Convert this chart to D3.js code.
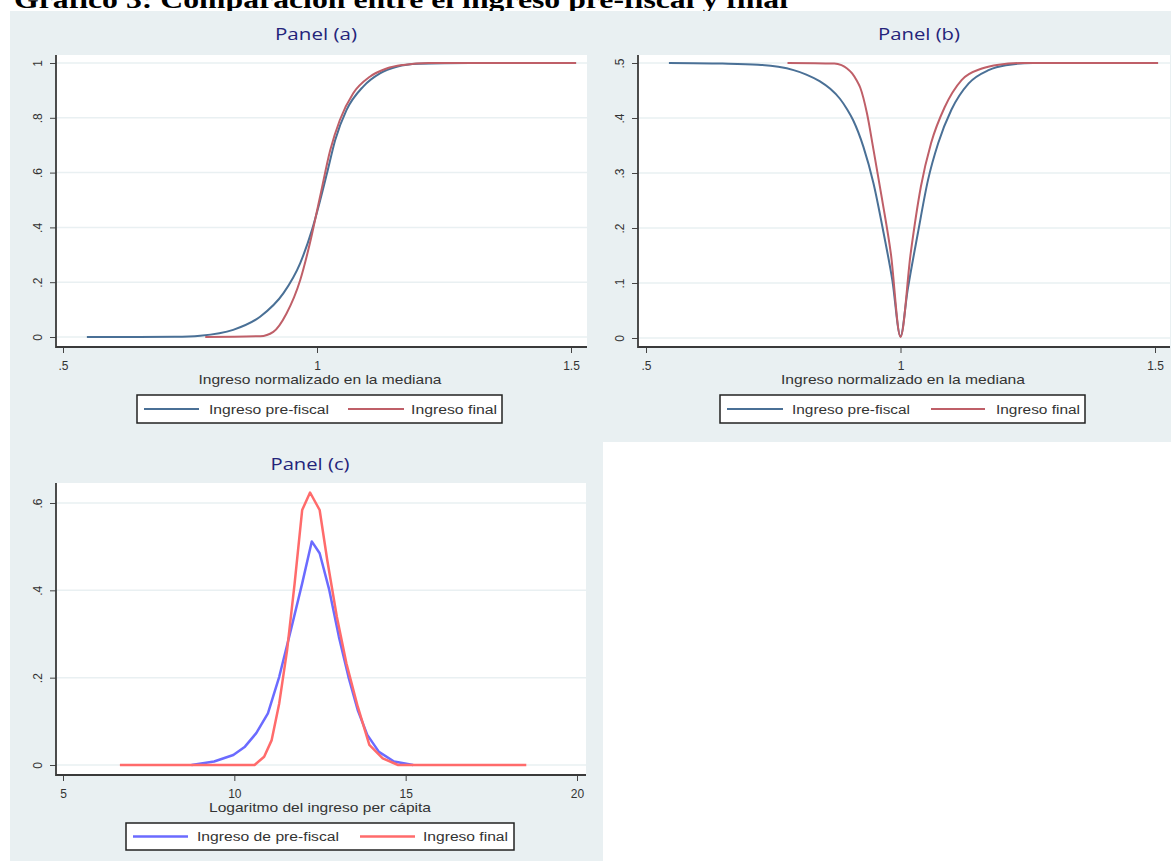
<!DOCTYPE html>
<html>
<head>
<meta charset="utf-8">
<script src="https://cdn.jsdelivr.net/npm/d3@7"></script>
<style>
  body { margin: 0; background: #fff; }
  svg { display: block; }
  .doc-title { font-family: "Liberation Serif", "Times New Roman", serif; font-weight: bold; font-size: 26px; fill: #000; }
  .panel-title { font-family: "Open Sans", "Noto Sans", sans-serif; font-size: 16px; fill: #24247a; }
  .tick text { font-family: "Liberation Sans", Arial, sans-serif; font-size: 12px; fill: #333; }
  .tick line { stroke: #444; stroke-width: 1; }
  .axis-title, .legend-label { font-family: "Liberation Sans", Arial, sans-serif; font-size: 13px; fill: #333; }
  .legend-label { font-size: 12.5px; }
</style>
</head>
<body>
<svg id="chart" width="1171" height="861"></svg>
<script>
const chartTitle = 'Gráfico 3: Comparación entre el ingreso pre-fiscal y final';

const xTicksAB = [0.5, 1, 1.5];
const yTicksA = [0, 0.2, 0.4, 0.6, 0.8, 1];
const yTicksB = [0, 0.1, 0.2, 0.3, 0.4, 0.5];
const xTicksC = [5, 10, 15, 20];
const yTicksC = [0, 0.2, 0.4, 0.6];

const legendAB = ['Ingreso pre-fiscal', 'Ingreso final'];
const legendC = ['Ingreso de pre-fiscal', 'Ingreso final'];

// panel (a): cumulative share, [ingreso normalizado, valor]
const panelAPre = [
  [0.547, 0], [0.65, 0], [0.72, 0.001], [0.77, 0.005], [0.835, 0.026], [0.888, 0.074],
  [0.934, 0.16], [0.967, 0.27], [0.99, 0.39], [1.005, 0.49], [1.02, 0.6], [1.036, 0.72],
  [1.058, 0.828], [1.091, 0.914], [1.124, 0.962], [1.157, 0.986], [1.2, 0.997], [1.3, 1], [1.51, 1]
];
const panelAFinal = [
  [0.78, 0], [0.888, 0.003], [0.914, 0.019], [0.94, 0.086], [0.967, 0.208], [0.986, 0.342],
  [1.006, 0.512], [1.026, 0.682], [1.045, 0.792], [1.071, 0.889], [1.104, 0.95], [1.137, 0.98],
  [1.17, 0.993], [1.22, 1], [1.51, 1]
];

// panel (b)
const panelBPre = [
  [0.545, 0.5], [0.65, 0.499], [0.72, 0.497], [0.76, 0.493], [0.79, 0.487], [0.815, 0.479],
  [0.841, 0.467], [0.862, 0.453], [0.881, 0.435], [0.895, 0.416], [0.907, 0.396], [0.927, 0.348],
  [0.947, 0.281], [0.967, 0.19], [0.984, 0.105], [1.0, 0.003], [1.014, 0.087], [1.034, 0.19],
  [1.054, 0.287], [1.074, 0.354], [1.1, 0.415], [1.134, 0.463], [1.173, 0.487], [1.207, 0.496],
  [1.26, 0.5], [1.506, 0.5]
];
const panelBFinal = [
  [0.778, 0.5], [0.87, 0.499], [0.884, 0.496], [0.895, 0.49], [0.905, 0.481], [0.914, 0.468],
  [0.921, 0.455], [0.934, 0.409], [0.947, 0.342], [0.964, 0.251], [0.981, 0.154], [1.0, 0.002],
  [1.02, 0.154], [1.04, 0.275], [1.06, 0.354], [1.087, 0.42], [1.12, 0.469], [1.16, 0.49],
  [1.193, 0.497], [1.24, 0.5], [1.506, 0.5]
];

// panel (c): densidad, [log ingreso, densidad]
const panelCPre = [
  [8.75, 0], [9.41, 0.008], [9.97, 0.023], [10.31, 0.042], [10.64, 0.073], [10.98, 0.118],
  [11.31, 0.202], [11.65, 0.309], [11.98, 0.416], [12.26, 0.512], [12.49, 0.485], [12.77, 0.401],
  [13.05, 0.294], [13.33, 0.202], [13.6, 0.126], [13.88, 0.069], [14.22, 0.03], [14.66, 0.008], [15.22, 0]
];
const panelCFinal = [
  [6.66, 0], [10.59, 0], [10.87, 0.019], [11.09, 0.057], [11.31, 0.141], [11.54, 0.263],
  [11.76, 0.416], [11.98, 0.584], [12.21, 0.624], [12.49, 0.584], [12.71, 0.47], [12.99, 0.34],
  [13.27, 0.233], [13.6, 0.134], [13.94, 0.046], [14.33, 0.015], [14.78, 0], [18.52, 0]
];

const BG = '#e9f0f2';
const NAVY = '#4a7096';
const MAROON = '#bf5f68';
const BLUE = '#6b6bff';
const RED = '#ff6b6b';

const fmt = d => d === 0 ? '0' : String(+d.toFixed(2)).replace(/^0\./, '.');

const svg = d3.select('#chart');

svg.append('text')
  .attr('class', 'doc-title')
  .attr('x', 14).attr('y', 7.5)
  .attr('textLength', 774).attr('lengthAdjust', 'spacingAndGlyphs')
  .text(chartTitle);

// graph background (covers the title's descenders like the pasted image)
svg.append('rect').attr('x', 10).attr('y', 11).attr('width', 1161).attr('height', 431).attr('fill', BG);
svg.append('rect').attr('x', 10).attr('y', 442).attr('width', 593).attr('height', 419).attr('fill', BG);

const panels = [
  {
    title: 'Panel (a)', titleX: 316, titleY: 40, titleW: 82,
    box: [56, 55, 587, 347],
    x: d3.scaleLinear().domain([0.5, 1.5]).range([63, 571]),
    y: d3.scaleLinear().domain([0, 1]).range([337, 63]),
    xTicks: xTicksAB, yTicks: yTicksA,
    xLabel: 'Ingreso normalizado en la mediana', xLabelX: 320, xLabelW: 243,
    curve: d3.curveMonotoneX, width: 2,
    series: [{ data: panelAPre, color: NAVY }, { data: panelAFinal, color: MAROON }],
    legend: { box: [137, 395, 502, 423], labels: legendAB,
      items: [{ x1: 144, x2: 199, tx: 209, tw: 120 }, { x1: 348, x2: 404, tx: 411, tw: 86 }] }
  },
  {
    title: 'Panel (b)', titleX: 919, titleY: 40, titleW: 82,
    box: [638, 55, 1170, 347],
    x: d3.scaleLinear().domain([0.5, 1.5]).range([646, 1155]),
    y: d3.scaleLinear().domain([0, 0.5]).range([338, 63]),
    xTicks: xTicksAB, yTicks: yTicksB,
    xLabel: 'Ingreso normalizado en la mediana', xLabelX: 903, xLabelW: 244,
    curve: d3.curveMonotoneX, width: 2,
    series: [{ data: panelBPre, color: NAVY }, { data: panelBFinal, color: MAROON }],
    legend: { box: [720, 395, 1085, 423], labels: legendAB,
      items: [{ x1: 727, x2: 783, tx: 792, tw: 118 }, { x1: 931, x2: 985, tx: 996, tw: 84 }] }
  },
  {
    title: 'Panel (c)', titleX: 310, titleY: 470, titleW: 79,
    box: [56, 483, 586, 775],
    x: d3.scaleLinear().domain([5, 20]).range([63, 577]),
    y: d3.scaleLinear().domain([0, 0.6]).range([765, 503]),
    xTicks: xTicksC, yTicks: yTicksC,
    xLabel: 'Logaritmo del ingreso per cápita', xLabelX: 320, xLabelW: 222,
    curve: d3.curveLinear, width: 2.5,
    series: [{ data: panelCPre, color: BLUE }, { data: panelCFinal, color: RED }],
    legend: { box: [126, 823, 514, 850], labels: legendC,
      items: [{ x1: 133, x2: 188, tx: 197, tw: 142 }, { x1: 360, x2: 415, tx: 423, tw: 85 }] }
  }
];

function drawPanel(p) {
  const g = svg.append('g');
  const [bx0, by0, bx1, by1] = p.box;

  g.append('rect')
    .attr('x', bx0).attr('y', by0)
    .attr('width', bx1 - bx0).attr('height', by1 - by0)
    .attr('fill', '#fff');

  g.append('g').selectAll('line')
    .data(p.yTicks)
    .join('line')
    .attr('x1', bx0).attr('x2', bx1)
    .attr('y1', d => p.y(d)).attr('y2', d => p.y(d))
    .attr('stroke', BG).attr('stroke-width', 1.5);

  const line = d3.line().x(d => p.x(d[0])).y(d => p.y(d[1])).curve(p.curve);
  g.append('g').selectAll('path')
    .data(p.series)
    .join('path')
    .attr('d', d => line(d.data))
    .attr('fill', 'none')
    .attr('stroke', d => d.color)
    .attr('stroke-width', p.width)
    .attr('stroke-linejoin', 'round');

  const yAxis = g.append('g')
    .attr('transform', `translate(${bx0},0)`)
    .call(d3.axisLeft(p.y).tickValues(p.yTicks).tickSize(6).tickFormat(fmt));
  yAxis.select('.domain').remove();
  yAxis.selectAll('.tick text')
    .attr('x', null).attr('dy', null)
    .attr('text-anchor', 'middle')
    .attr('transform', 'translate(-14,0) rotate(-90)');

  const xAxis = g.append('g')
    .attr('transform', `translate(0,${by1})`)
    .call(d3.axisBottom(p.x).tickValues(p.xTicks).tickSize(6).tickFormat(fmt));
  xAxis.select('.domain').remove();
  xAxis.selectAll('.tick text').attr('y', 23).attr('dy', null);

  g.append('path')
    .attr('d', `M${bx0},${by0}V${by1}H${bx1}`)
    .attr('fill', 'none')
    .attr('stroke', '#3a3a3a')
    .attr('stroke-width', 1.8);

  g.append('text')
    .attr('class', 'panel-title')
    .attr('x', p.titleX).attr('y', p.titleY)
    .attr('text-anchor', 'middle')
    .attr('textLength', p.titleW).attr('lengthAdjust', 'spacingAndGlyphs')
    .text(p.title);

  g.append('text')
    .attr('class', 'axis-title')
    .attr('x', p.xLabelX).attr('y', by1 + 37)
    .attr('text-anchor', 'middle')
    .attr('textLength', p.xLabelW).attr('lengthAdjust', 'spacingAndGlyphs')
    .text(p.xLabel);

  const lg = p.legend;
  const [lx0, ly0, lx1, ly1] = lg.box;
  const lgG = g.append('g');
  lgG.append('rect')
    .attr('x', lx0).attr('y', ly0)
    .attr('width', lx1 - lx0).attr('height', ly1 - ly0)
    .attr('fill', '#fff')
    .attr('stroke', '#222').attr('stroke-width', 1.5);
  const cy = (ly0 + ly1) / 2;
  lg.items.forEach((it, i) => {
    lgG.append('line')
      .attr('x1', it.x1).attr('x2', it.x2)
      .attr('y1', cy).attr('y2', cy)
      .attr('stroke', p.series[i].color)
      .attr('stroke-width', p.width);
    lgG.append('text')
      .attr('class', 'legend-label')
      .attr('x', it.tx).attr('y', cy + 4.5)
      .attr('textLength', it.tw).attr('lengthAdjust', 'spacingAndGlyphs')
      .text(lg.labels[i]);
  });
}

panels.forEach(drawPanel);
</script>
</body>
</html>
